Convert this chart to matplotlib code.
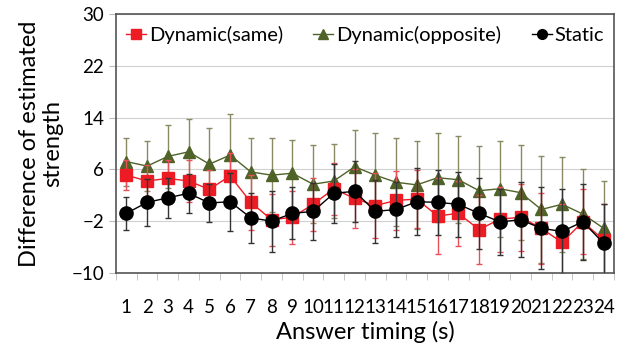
import matplotlib.pyplot as plt
from matplotlib.lines import Line2D
import numpy as np

plt.rcParams["font.family"] = ["Lato", "DejaVu Sans"]

timing = list(range(1, 25))

same_mean = [5.1, 4.2, 4.6, 4.2, 2.9, 5.0, 0.9, -1.8, -1.4, 0.6, 3.0, 1.5,
             0.4, 1.2, 1.4, -1.2, -0.8, -3.3, -1.7, -1.4, -3.1, -5.3, -2.1, -4.9]
same_err = [2.3, 2.5, 2.8, 3.3, 3.0, 3.5, 4.2, 4.0, 4.1, 4.1, 4.0, 4.5,
            5.0, 4.5, 4.5, 5.9, 5.0, 5.3, 5.0, 5.2, 5.5, 6.0, 5.0, 5.5]

opp_mean = [7.2, 6.5, 8.0, 8.7, 6.8, 8.2, 5.6, 5.1, 5.4, 3.7, 4.2, 6.4,
            5.1, 4.0, 3.6, 4.7, 4.4, 2.7, 3.0, 2.4, -0.2, 0.6, -0.9, -3.1]
opp_err = [3.7, 3.9, 4.9, 5.1, 5.6, 6.4, 5.3, 5.7, 5.2, 6.0, 5.7, 5.6,
           6.5, 6.8, 6.8, 6.9, 6.7, 6.9, 7.4, 7.3, 8.2, 7.3, 7.0, 7.3]

static_mean = [-0.8, 0.9, 1.6, 2.3, 0.8, 1.0, -1.5, -2.0, -0.8, -0.5, 2.3, 2.6,
               -0.5, -0.2, 1.0, 0.9, 0.6, -0.8, -2.1, -1.8, -3.1, -3.6, -2.1, -5.4]
static_err = [2.5, 3.6, 3.1, 3.0, 2.9, 4.5, 3.9, 4.7, 4.0, 4.4, 4.6, 4.7,
              4.9, 4.3, 5.2, 5.0, 5.0, 5.5, 5.1, 5.8, 6.3, 6.5, 5.9, 6.0]

y_ticks = [-10, -2, 6, 14, 22, 30]

fig = plt.figure(figsize=(6.17, 3.49), dpi=100)
ax = fig.add_axes([0.188, 0.218, 0.807, 0.742])

ax.errorbar(timing, opp_mean, yerr=opp_err, color="#4F6228", ecolor="#8A8A62",
            elinewidth=1, capsize=2, capthick=1, linewidth=1, marker="^",
            markersize=9, zorder=3)
ax.errorbar(timing, same_mean, yerr=same_err, color="#ED1C24", ecolor="#E8505A",
            elinewidth=1, capsize=2, capthick=1, linewidth=1, marker="s",
            markersize=8.5, zorder=4)
ax.errorbar(timing, static_mean, yerr=static_err, color="black", ecolor="#333333",
            elinewidth=1, capsize=2, capthick=1, linewidth=1, marker="o",
            markersize=9.5, zorder=5)

ax.set_xlim(0.5, 24.5)
ax.set_ylim(-10, 30)
ax.set_yticks(y_ticks)
ax.set_xticks(timing)
ax.set_xticklabels([str(t) for t in timing])
ax.set_xticks(np.arange(0.5, 25, 1), minor=True)
ax.tick_params(axis="x", which="major", length=0, pad=19, labelsize=13.5)
ax.tick_params(axis="x", which="minor", length=5, color="#BBBBBB")
ax.tick_params(axis="y", length=5, color="#BBBBBB", labelsize=13.5)
ax.grid(axis="y", color="#D0D0D0", linewidth=0.8)
ax.set_axisbelow(True)
for s in ax.spines.values():
    s.set_color("#555555")
    s.set_linewidth(1.2)

ax.set_xlabel("Answer timing (s)", fontsize=17, labelpad=3)
ax.set_ylabel("Difference of estimated\nstrength", fontsize=17, labelpad=6,
              linespacing=1.15)

handles = [
    Line2D([], [], color="#ED1C24", marker="s", markersize=7, linewidth=1),
    Line2D([], [], color="#4F6228", marker="^", markersize=7, linewidth=1),
    Line2D([], [], color="black", marker="o", markersize=7, linewidth=1),
]
labels = ["Dynamic(same)", "Dynamic(opposite)", "Static"]
ax.legend(handles, labels, loc="upper center", ncol=3, frameon=False,
          fontsize=14.5, handlelength=1.0, handletextpad=0.15, columnspacing=1.5,
          borderaxespad=0.2, bbox_to_anchor=(0.5, 1.0))

plt.savefig("out.png", dpi=100)
